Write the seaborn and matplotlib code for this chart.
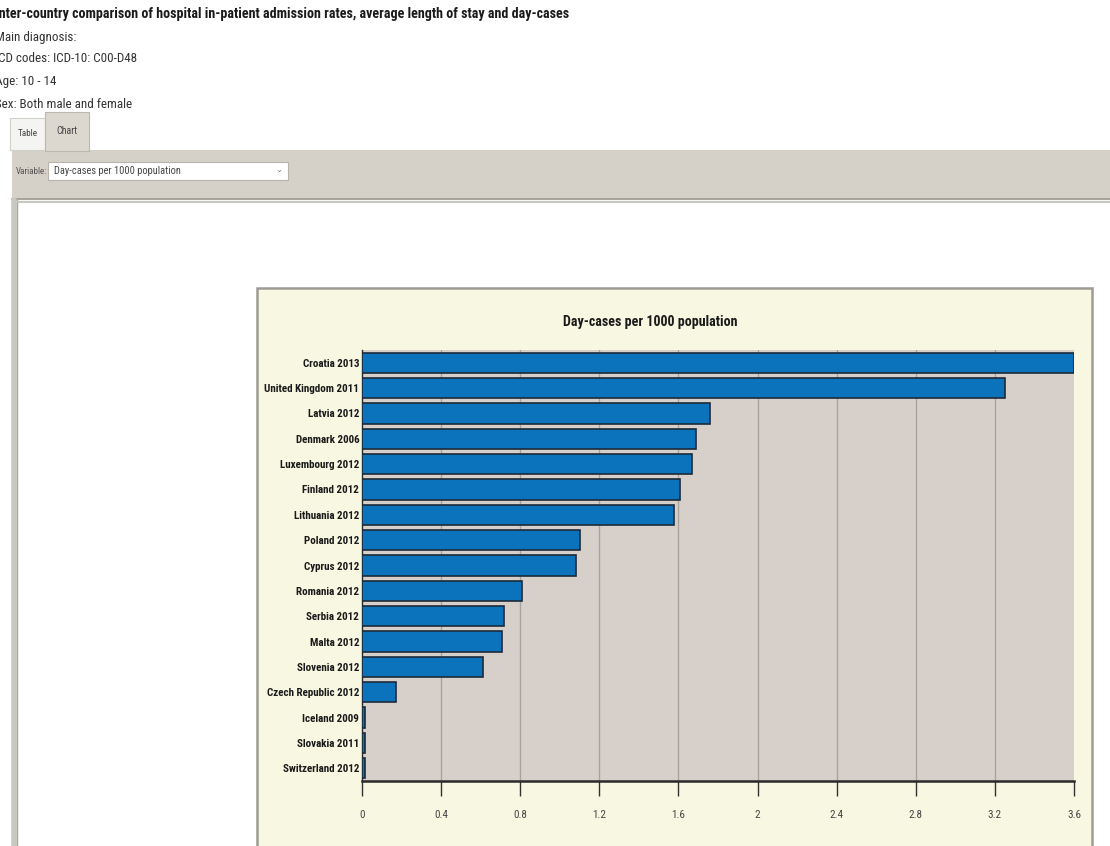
import matplotlib
matplotlib.use("Agg")
import matplotlib.pyplot as plt
import matplotlib.font_manager as fm
from matplotlib.patches import Rectangle
from matplotlib.lines import Line2D
import seaborn as sns
import pandas as pd

# ---------------- data ----------------
countries = ["Croatia 2013", "United Kingdom 2011", "Latvia 2012", "Denmark 2006",
             "Luxembourg 2012", "Finland 2012", "Lithuania 2012", "Poland 2012",
             "Cyprus 2012", "Romania 2012", "Serbia 2012", "Malta 2012",
             "Slovenia 2012", "Czech Republic 2012", "Iceland 2009",
             "Slovakia 2011", "Switzerland 2012"]
values = [3.60, 3.25, 1.76, 1.69, 1.67, 1.61, 1.58, 1.10, 1.08, 0.81,
          0.72, 0.71, 0.61, 0.17, 0.015, 0.015, 0.015]
x_ticks = [0, 0.4, 0.8, 1.2, 1.6, 2, 2.4, 2.8, 3.2, 3.6]
x_tick_labels = ["0", "0.4", "0.8", "1.2", "1.6", "2", "2.4", "2.8", "3.2", "3.6"]
chart_title = "Day-cases per 1000 population"
header_lines = ["Inter-country comparison of hospital in-patient admission rates, average length of stay and day-cases",
                "Main diagnosis:", "ICD codes: ICD-10: C00-D48", "Age: 10 - 14", "Sex: Both male and female"]

df = pd.DataFrame({"country": countries, "value": values})

# ---------------- fonts ----------------
sns.set_theme(style="white")
entries = fm.fontManager.ttflist
names = {f.name for f in entries}
FAM, STRETCH = "Liberation Sans", "normal"
for n in ["Liberation Sans Narrow", "Roboto Condensed", "Open Sans Condensed"]:
    if n in names:
        FAM = n
        break
else:
    for n in ["Noto Sans", "Open Sans", "Roboto", "DejaVu Sans"]:
        if any(f.name == n and str(f.stretch) in ("condensed", "semi-condensed",
                                                     "extra-condensed", "75", "87.5")
               for f in entries):
            FAM, STRETCH = n, "condensed"
            break
plt.rcParams["font.family"] = [FAM, "DejaVu Sans"]
plt.rcParams["font.stretch"] = STRETCH

W, H = 1110, 846
fig = plt.figure(figsize=(W / 100, H / 100), dpi=100)
fig.patch.set_facecolor("white")
renderer = fig.canvas.get_renderer()


def fx(px):
    return px / W


def fy(py):
    return 1 - py / H


def rect(x0, y0, x1, y1, fc, ec="none", lw=0, z=0):
    fig.patches.append(Rectangle((fx(x0), fy(y1)), fx(x1) - fx(x0), fy(y0) - fy(y1),
                                 transform=fig.transFigure, facecolor=fc, edgecolor=ec,
                                 linewidth=lw, zorder=z))


def hline(x0, x1, y, c, lw=1, z=1):
    fig.lines.append(Line2D([fx(x0), fx(x1)], [fy(y), fy(y)], transform=fig.transFigure,
                            color=c, linewidth=lw, zorder=z))


def vline(x, y0, y1, c, lw=1, z=1):
    fig.lines.append(Line2D([fx(x), fx(x)], [fy(y0), fy(y1)], transform=fig.transFigure,
                            color=c, linewidth=lw, zorder=z))


def fit(t, target_px):
    """scale a text's font size so that its width matches target_px"""
    w = t.get_window_extent(renderer).width
    if w > 0:
        t.set_fontsize(t.get_fontsize() * target_px / w)
    return t


# ---------------- page header ----------------
ys = [14, 37, 59, 82, 104]
head = fig.text(fx(-5), fy(ys[0]), header_lines[0], fontsize=9.2, fontweight="bold",
                color="#1a1a1a", va="center", ha="left")
fit(head, 572)
probe = fig.text(0, 0, header_lines[2], fontsize=9.0)
sub_size = 9.0 * 142 / probe.get_window_extent(renderer).width
probe.remove()
for txt, y in zip(header_lines[1:], ys[1:]):
    fig.text(fx(-5), fy(y), txt, fontsize=sub_size, color="#333333", va="center", ha="left")

# tabs
rect(10, 118, 45, 150, "#f4f4f2", ec="#d0d0cc", lw=0.8, z=1)
rect(45, 112, 89, 151, "#dcd8d0", ec="#bcb8b0", lw=0.8, z=1)
fit(fig.text(fx(28), fy(133), "Table", fontsize=7.5, color="#444444", ha="center", va="center"), 20)
fit(fig.text(fx(67), fy(131), "Chart", fontsize=7.5, color="#444444", ha="center", va="center"), 21)

# grey toolbar band
rect(12, 150, W + 5, 200, "#d5d0c8", z=0.5)
hline(12, W, 199, "#a8a49c", lw=1.5)
fit(fig.text(fx(16), fy(171), "Variable:", fontsize=5.5, color="#555555", ha="left", va="center"), 31)
rect(48, 162, 288, 180, "white", ec="#b8b4ac", lw=0.8, z=1)
fit(fig.text(fx(54), fy(171), "Day-cases per 1000 population", fontsize=5.5, color="#444444",
             ha="left", va="center"), 126)
fig.text(fx(279), fy(170), "\u2304", fontsize=6, color="#777777", ha="center", va="center",
         family="DejaVu Sans")

# white content panel borders
vline(14, 200, H + 5, "#c8c8c0", lw=4)
vline(16.5, 200, H + 5, "#a8a8a0", lw=1)
hline(14, W, 202, "#c8c8c0", lw=1.5)

# cream chart panel
rect(257, 288, 1092, H + 10, "#f8f7e2", ec="#9c9c94", lw=1.8, z=0.8)

# ---------------- chart ----------------
ax = fig.add_axes([fx(362), fy(781), fx(1074) - fx(362), fy(350) - fy(781)])
ax.set_facecolor("#d7d0ca")
ax.set_zorder(2)

sns.barplot(data=df, x="value", y="country", orient="h", color="#0b73bb",
            saturation=1, width=0.8, edgecolor="#1d2a3a", linewidth=1.2, ax=ax, zorder=3)

ax.set_xlim(0, 3.6)
ax.set_xticks(x_ticks)
ax.set_xticklabels(x_tick_labels, fontsize=8, color="#444444")
ax.set_xlabel("")
ax.set_ylabel("")
ax.tick_params(axis="x", direction="out", length=11, width=1, color="#333333", pad=10,
               bottom=True)
ax.tick_params(axis="y", length=0, pad=2, labelsize=7.8)

# fit y tick label size so the longest label matches the reference width
probe = fig.text(0, 0, "United Kingdom 2011", fontsize=7.8, fontweight="bold")
w = probe.get_window_extent(renderer).width
ylab_size = 7.8 * 95 / w
probe.remove()
for lab in ax.get_yticklabels():
    lab.set_fontweight("bold")
    lab.set_color("#1a1a1a")
    lab.set_fontsize(ylab_size)

for xt in x_ticks[1:-1]:
    ax.axvline(xt, color="#a9a39c", linewidth=1, zorder=1)

for s in ["top", "right"]:
    ax.spines[s].set_visible(False)
ax.spines["bottom"].set_color("#2a2a2a")
ax.spines["bottom"].set_linewidth(1.8)
ax.spines["left"].set_color("#2a2a2a")
ax.spines["left"].set_linewidth(1)

fit(fig.text(fx(650), fy(322), chart_title, fontsize=10.5, fontweight="bold",
             color="#1a1a1a", ha="center", va="center"), 175)

fig.savefig("out.png", dpi=100)
